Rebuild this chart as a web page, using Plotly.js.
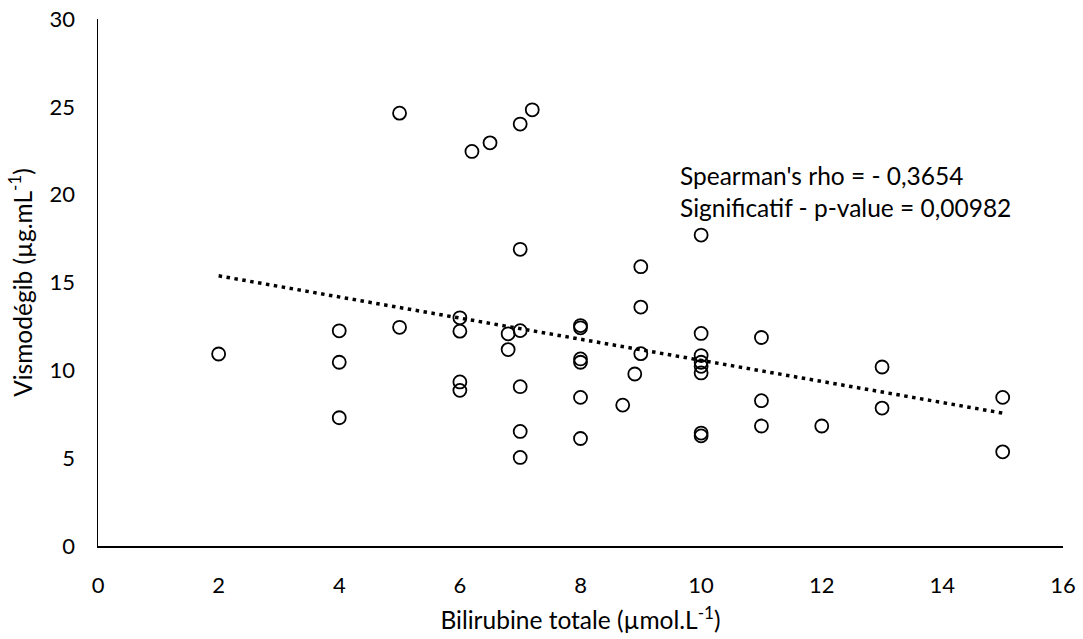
<!DOCTYPE html>
<html>
<head>
<meta charset="utf-8">
<script src="https://cdn.plot.ly/plotly-3.0.1.min.js"></script>
<style>html,body{margin:0;padding:0;background:#fff;}#chart{width:1083px;height:639px;}</style>
</head>
<body>
<div id="chart"></div>
<script>
// Bilirubine totale (µmol/L)
var bilirubine = [2,
  4,4,4,
  5,5,
  6,6,6,6,
  6.2,6.5,
  6.8,6.8,
  7,7,7,7,7,7,
  7.2,
  8,8,8,8,8,8,
  8.7,8.9,
  9,9,9,
  10,10,10,10,10,10,10,10,
  11,11,11,
  12,
  13,13,
  15,15];
// Vismodégib (µg/mL)
var vismodegib = [10.93,
  12.25,10.46,7.3,
  24.64,12.45,
  12.99,12.23,9.34,8.86,
  22.46,22.95,
  12.08,11.18,
  24.02,16.89,12.26,9.07,6.52,5.04,
  24.83,
  12.55,12.42,10.65,10.46,8.46,6.12,
  8.02,9.79,
  15.9,13.6,10.95,
  17.7,12.1,10.84,10.46,10.23,9.85,6.43,6.27,
  11.87,8.27,6.83,
  6.83,
  10.19,7.85,
  8.46,5.36];
var xTicks = [0,2,4,6,8,10,12,14,16];
var yTicks = [0,5,10,15,20,25,30];
var statLines = ["Spearman's rho = - 0,3654", "Significatif - p-value = 0,00982"];

// linear least-squares trendline (as Excel's linear trendline)
var n = bilirubine.length, sx=0, sy=0, sxx=0, sxy=0;
for (var i=0;i<n;i++){sx+=bilirubine[i];sy+=vismodegib[i];sxx+=bilirubine[i]*bilirubine[i];sxy+=bilirubine[i]*vismodegib[i];}
var slope = (n*sxy - sx*sy)/(n*sxx - sx*sx);
var icpt = (sy - slope*sx)/n;
var xmin = Math.min.apply(null,bilirubine), xmax = Math.max.apply(null,bilirubine);
var trendX = [xmin, xmax];
var trendY = trendX.map(function(v){return icpt + slope*v;});

var font = 'Lato, "Open Sans", sans-serif';
var data = [
  {x: trendX, y: trendY, type:'scatter', mode:'lines',
   line:{color:'#000', width:3.5, dash:'3.5px,4.5px'}, hoverinfo:'skip', showlegend:false},
  {x: bilirubine, y: vismodegib, type:'scatter', mode:'markers',
   marker:{symbol:'circle-open', size:13, color:'#000', line:{width:1.8, color:'#000'}}, showlegend:false}
];
var layout = {
  width:1083, height:639,
  margin:{l:98, r:20, t:19, b:93},
  paper_bgcolor:'#fff', plot_bgcolor:'#fff',
  font:{family:font, size:22, color:'#000'},
  showlegend:false,
  xaxis:{range:[0,16], tickvals:xTicks, ticktext:xTicks.map(String), showgrid:false, zeroline:false,
    showline:true, linecolor:'#000', linewidth:1.5, ticks:'outside', ticklen:19, tickcolor:'rgba(0,0,0,0)',
    tickfont:{family:font, size:22, color:'#000'},
    title:{text:'Bilirubine totale (µmol.L<sup>-1</sup>)', font:{family:font, size:24.5, color:'#000'}, standoff:15}},
  yaxis:{range:[0,30], tickvals:yTicks, ticktext:yTicks.map(String), showgrid:false, zeroline:false,
    showline:true, linecolor:'#000', linewidth:1.5, ticks:'outside', ticklen:17, tickcolor:'rgba(0,0,0,0)',
    tickfont:{family:font, size:22, color:'#000'},
    title:{text:'Vismodégib (µg.mL<sup>-1</sup>)', font:{family:font, size:24.5, color:'#000'}, standoff:10}},
  annotations:[
    {xref:'paper', yref:'paper', x:0.601, y:0.7025, xanchor:'left', yanchor:'middle', showarrow:false,
     text:statLines[0], font:{family:font, size:24.5, color:'#000'}},
    {xref:'paper', yref:'paper', x:0.601, y:0.6417, xanchor:'left', yanchor:'middle', showarrow:false,
     text:statLines[1], font:{family:font, size:24.5, color:'#000'}}
  ]
};
Plotly.newPlot('chart', data, layout, {displayModeBar:false, staticPlot:true});
</script>
</body>
</html>
